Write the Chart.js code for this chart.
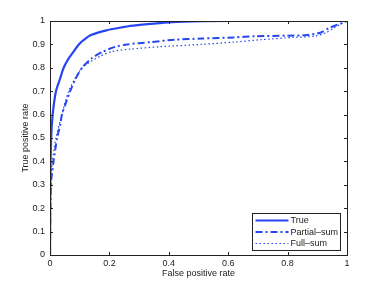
<!DOCTYPE html>
<html>
<head>
<meta charset="utf-8">
<script src="https://cdn.jsdelivr.net/npm/chart.js@4/dist/chart.umd.min.js"></script>
<style>
  html, body { margin: 0; padding: 0; background: #fff; }
  #wrap { width: 382px; height: 287px; }
</style>
</head>
<body>
<div id="wrap"><canvas id="roc"></canvas></div>
<script>
// ROC curves
const trueX = [0, 0.001, 0.004, 0.009, 0.02, 0.033, 0.046, 0.063, 0.08, 0.097, 0.115, 0.138, 0.19, 0.23, 0.28, 0.36, 0.45, 0.6, 0.8, 1];
const trueY = [0, 0.3, 0.5, 0.6, 0.7, 0.75, 0.8, 0.84, 0.87, 0.9, 0.92, 0.94, 0.96, 0.97, 0.98, 0.99, 0.997, 1, 1, 1];

const partialX = [0, 0.003, 0.012, 0.024, 0.035, 0.04, 0.068, 0.085, 0.108, 0.14, 0.18, 0.22, 0.26, 0.34, 0.42, 0.51, 0.62, 0.69, 0.8, 0.865, 0.91, 0.94, 0.98, 1];
const partialY = [0, 0.3, 0.4, 0.5, 0.56, 0.6, 0.7, 0.75, 0.8, 0.84, 0.87, 0.89, 0.9, 0.91, 0.92, 0.925, 0.93, 0.935, 0.937, 0.94, 0.95, 0.97, 0.99, 1];

const fullX = [0, 0.002, 0.008, 0.02, 0.04, 0.063, 0.108, 0.17, 0.21, 0.27, 0.37, 0.51, 0.62, 0.71, 0.82, 0.89, 0.93, 0.955, 1];
const fullY = [0, 0.3, 0.4, 0.5, 0.6, 0.7, 0.8, 0.85, 0.87, 0.88, 0.89, 0.9, 0.91, 0.92, 0.93, 0.935, 0.95, 0.97, 1];

const seriesNames = ['True', 'Partial\u2013sum', 'Full\u2013sum'];
const xTicks = [0, 0.2, 0.4, 0.6, 0.8, 1];
const yTicks = [0, 0.1, 0.2, 0.3, 0.4, 0.5, 0.6, 0.7, 0.8, 0.9, 1];

const BLUE = '#2746f2';
const INK = '#222';
const FONT = '"Liberation Sans", Arial, sans-serif';

const toPoints = (xs, ys) => xs.map((x, i) => ({ x: x, y: ys[i] }));

// MATLAB-like box with inward ticks on all sides
const boxTicks = {
    id: 'boxTicks',
    afterDatasetsDraw(chart) {
        const { ctx, chartArea: a, scales } = chart;
        ctx.save();
        ctx.strokeStyle = INK;
        ctx.lineWidth = 1;
        ctx.beginPath();
        xTicks.forEach(v => {
            const px = Math.round(scales.x.getPixelForValue(v)) + 0.5;
            ctx.moveTo(px, a.bottom); ctx.lineTo(px, a.bottom - 3);
            ctx.moveTo(px, a.top); ctx.lineTo(px, a.top + 3);
        });
        yTicks.forEach(v => {
            const py = Math.round(scales.y.getPixelForValue(v)) + 0.5;
            ctx.moveTo(a.left, py); ctx.lineTo(a.left + 3, py);
            ctx.moveTo(a.right, py); ctx.lineTo(a.right - 3, py);
        });
        ctx.stroke();
        ctx.strokeRect(Math.round(a.left) + 0.5, Math.round(a.top) + 0.5,
            Math.round(a.right - a.left), Math.round(a.bottom - a.top));
        ctx.restore();
    }
};

// legend box in the lower right corner
const cornerLegend = {
    id: 'cornerLegend',
    afterDraw(chart) {
        const { ctx, chartArea: a } = chart;
        const w = 88, h = 37;
        const x0 = Math.round(a.right) - 95 + 0.5, y0 = Math.round(a.bottom) - 42 + 0.5;
        ctx.save();
        ctx.fillStyle = '#fff';
        ctx.fillRect(x0, y0, w, h);
        ctx.strokeStyle = INK;
        ctx.lineWidth = 1;
        ctx.strokeRect(x0, y0, w, h);
        ctx.font = '9px ' + FONT;
        ctx.textBaseline = 'middle';
        chart.data.datasets.forEach((ds, i) => {
            const yy = y0 + 7 + i * 11.5;
            ctx.strokeStyle = ds.borderColor;
            ctx.lineWidth = ds.borderWidth;
            ctx.setLineDash(ds.borderDash || []);
            ctx.beginPath();
            ctx.moveTo(x0 + 3, yy); ctx.lineTo(x0 + 36, yy);
            ctx.stroke();
            ctx.setLineDash([]);
            ctx.fillStyle = INK;
            ctx.fillText(ds.label, x0 + 38, yy + 0.5);
        });
        ctx.restore();
    }
};

new Chart(document.getElementById('roc'), {
    type: 'line',
    data: {
        datasets: [
            { label: seriesNames[0], data: toPoints(trueX, trueY), borderColor: BLUE, borderWidth: 2.2 },
            { label: seriesNames[1], data: toPoints(partialX, partialY), borderColor: BLUE, borderWidth: 2, borderDash: [7, 3, 2, 3] },
            { label: seriesNames[2], data: toPoints(fullX, fullY), borderColor: BLUE, borderWidth: 1.2, borderDash: [1.5, 2.5] }
        ]
    },
    options: {
        responsive: true,
        maintainAspectRatio: false,
        animation: false,
        layout: { padding: { left: 20, top: 21, right: 35, bottom: 8 } },
        elements: { point: { radius: 0 }, line: { tension: 0.25, fill: false } },
        plugins: { legend: { display: false }, tooltip: { enabled: false } },
        scales: {
            x: {
                type: 'linear', min: 0, max: 1,
                afterBuildTicks: s => { s.ticks = xTicks.map(v => ({ value: v })); },
                afterFit: s => { s.height = 24; },
                grid: { display: false, drawTicks: false },
                border: { display: false },
                ticks: { color: INK, font: { family: FONT, size: 9 }, padding: 3, maxRotation: 0, callback: v => String(v) },
                title: { display: true, text: 'False positive rate', color: INK, font: { family: FONT, size: 9 }, padding: 0 }
            },
            y: {
                type: 'linear', min: 0, max: 1,
                afterBuildTicks: s => { s.ticks = yTicks.map(v => ({ value: v })); },
                afterFit: s => { s.width = 30; },
                grid: { display: false, drawTicks: false },
                border: { display: false },
                ticks: { color: INK, font: { family: FONT, size: 9 }, padding: 5, callback: v => String(v) },
                title: { display: true, text: 'True positive rate', color: INK, font: { family: FONT, size: 9 }, padding: 0 }
            }
        }
    },
    plugins: [boxTicks, cornerLegend]
});
</script>
</body>
</html>
